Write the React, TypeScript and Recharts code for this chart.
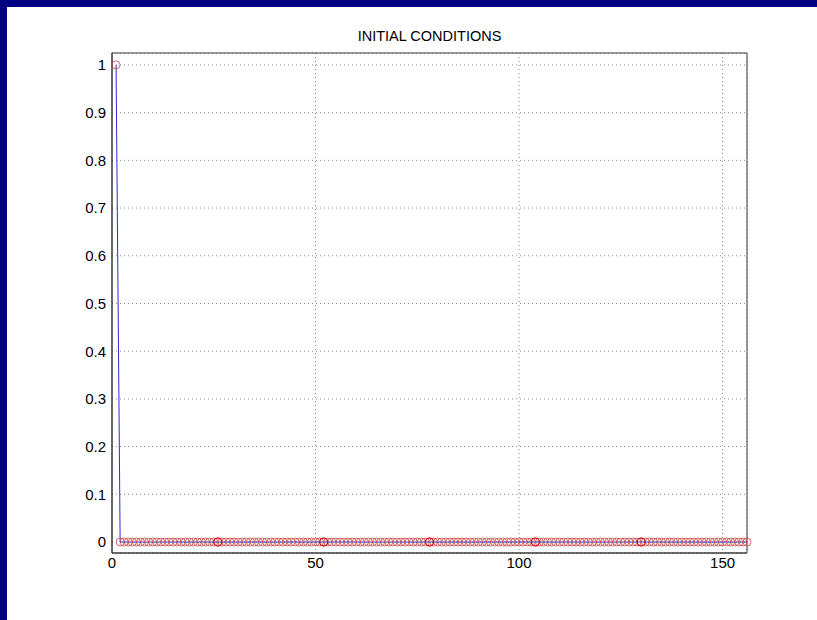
import React from "react";
import {
  ComposedChart,
  Line,
  XAxis,
  YAxis,
  CartesianGrid,
  ReferenceArea,
} from "recharts";

// sample values, n = 1..156 (impulse at n = 1)
const values = [
  1, 0, 0, 0, 0, 0, 0, 0, 0, 0, 0, 0, 0, 0, 0, 0, 0, 0, 0, 0,
  0, 0, 0, 0, 0, 0, 0, 0, 0, 0, 0, 0, 0, 0, 0, 0, 0, 0, 0, 0,
  0, 0, 0, 0, 0, 0, 0, 0, 0, 0, 0, 0, 0, 0, 0, 0, 0, 0, 0, 0,
  0, 0, 0, 0, 0, 0, 0, 0, 0, 0, 0, 0, 0, 0, 0, 0, 0, 0, 0, 0,
  0, 0, 0, 0, 0, 0, 0, 0, 0, 0, 0, 0, 0, 0, 0, 0, 0, 0, 0, 0,
  0, 0, 0, 0, 0, 0, 0, 0, 0, 0, 0, 0, 0, 0, 0, 0, 0, 0, 0, 0,
  0, 0, 0, 0, 0, 0, 0, 0, 0, 0, 0, 0, 0, 0, 0, 0, 0, 0, 0, 0,
  0, 0, 0, 0, 0, 0, 0, 0, 0, 0, 0, 0, 0, 0, 0, 0,
];

// markers that show up darker in the picture
const darkMarks = [26, 52, 78, 104, 130];

const xTicks = [0, 50, 100, 150];
const yTicks = [0, 0.1, 0.2, 0.3, 0.4, 0.5, 0.6, 0.7, 0.8, 0.9, 1];
const xDomain = [0, 156];
const yDomain = [-0.023, 1.025];

const data = values.map((v, i) => ({
  n: i + 1,
  y: v,
  dark: darkMarks.includes(i + 1) ? v : null,
}));

const font = "'Liberation Sans', Arial, sans-serif";
const axisColor = "#3a3a3a";

const App = () => {
  return (
    <div
      style={{
        position: "fixed",
        left: 0,
        top: 0,
        width: 817,
        height: 620,
        background: "#ffffff",
        fontFamily: font,
      }}
    >
      <div style={{ position: "absolute", left: 0, top: 0, width: 817, height: 7, background: "#000080" }} />
      <div style={{ position: "absolute", left: 0, top: 0, width: 7, height: 620, background: "#000080" }} />
      <div
        style={{
          position: "absolute",
          left: 112,
          width: 635,
          top: 28,
          textAlign: "center",
          fontSize: 14.5,
          color: "#000",
        }}
      >
        INITIAL CONDITIONS
      </div>
      <div style={{ position: "absolute", left: 0, top: 0 }}>
        <ComposedChart
          width={817}
          height={620}
          data={data}
          margin={{ top: 53, right: 70, bottom: 37, left: 72 }}
        >
          <CartesianGrid stroke="#8a8a8a" strokeDasharray="1 3" />
          <XAxis
            dataKey="n"
            type="number"
            domain={xDomain}
            ticks={xTicks}
            stroke={axisColor}
            tickSize={0}
            tickMargin={4}
            height={30}
            tick={{ fill: "#000", fontSize: 15, fontFamily: font }}
          />
          <YAxis
            type="number"
            domain={yDomain}
            ticks={yTicks}
            stroke={axisColor}
            tickSize={0}
            tickMargin={6}
            width={40}
            tick={{ fill: "#000", fontSize: 15, fontFamily: font }}
          />
          <ReferenceArea
            x1={xDomain[0]}
            x2={xDomain[1]}
            y1={yDomain[0]}
            y2={yDomain[1]}
            stroke={axisColor}
            strokeWidth={1}
            fill="none"
            fillOpacity={0}
          />
          <Line
            dataKey="y"
            type="linear"
            stroke="#2b2bd0"
            strokeWidth={1}
            dot={{ r: 4, stroke: "#c84848", strokeWidth: 0.8, fill: "none" }}
            isAnimationActive={false}
          />
          <Line
            dataKey="dark"
            type="linear"
            stroke="none"
            dot={{ r: 4, stroke: "#e00000", strokeWidth: 1.1, fill: "none" }}
            connectNulls={false}
            isAnimationActive={false}
          />
        </ComposedChart>
      </div>
    </div>
  );
};

export default App;
